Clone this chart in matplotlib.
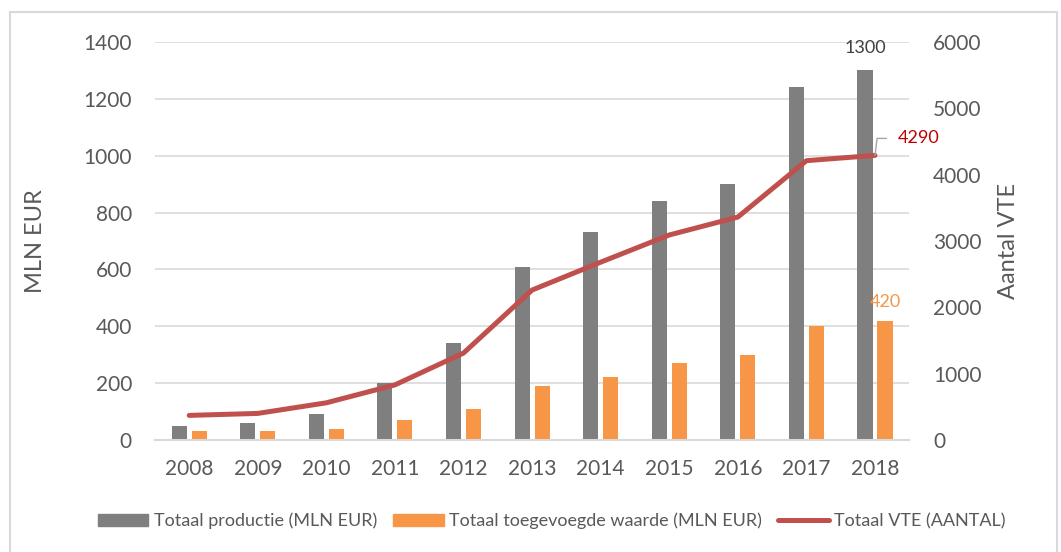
import matplotlib.pyplot as plt
import numpy as np
from matplotlib.patches import Rectangle
from matplotlib.lines import Line2D

# ------------ DATA -----------------
years = ['2008', '2009', '2010', '2011', '2012', '2013',
         '2014', '2015', '2016', '2017', '2018']
productie = [50, 60, 90, 200, 340, 610, 730, 840, 900, 1240, 1300]
toegevoegd = [30, 30, 40, 70, 110, 190, 220, 270, 300, 400, 420]
vte = [370, 400, 560, 830, 1310, 2260, 2680, 3090, 3360, 4210, 4290]

c_gray = '#7f7f7f'
c_orange = '#f79646'
c_red = '#c0504d'
c_text = '#595959'

plt.rcParams['font.family'] = ['Lato', 'DejaVu Sans']

fig = plt.figure(figsize=(10.61, 5.52), dpi=100)
ax1 = fig.add_axes([0.146, 0.203, 0.711, 0.721])
ax2 = ax1.twinx()

x = np.arange(len(years))
w = 0.22
ax1.bar(x - 0.146, productie, w, color=c_gray, zorder=2)
ax1.bar(x + 0.146, toegevoegd, w, color=c_orange, zorder=2)
ax2.plot(x, vte, color=c_red, lw=3.6, solid_capstyle='round', zorder=3)

ax1.set_xlim(-0.5, len(years) - 0.5)
ax1.set_ylim(0, 1400)
ax2.set_ylim(0, 6000)
ax1.set_yticks(range(0, 1401, 200))
ax2.set_yticks(range(0, 6001, 1000))
ax1.set_xticks(x)
ax1.set_xticklabels(years)

ax1.grid(axis='y', color='#d9d9d9', lw=1.2, zorder=0)
ax1.set_axisbelow(True)
for ax in (ax1, ax2):
    for s in ax.spines.values():
        s.set_visible(False)
    ax.tick_params(length=0, labelsize=15, colors=c_text)
ax1.spines['bottom'].set_visible(True)
ax1.spines['bottom'].set_color('#d9d9d9')
ax1.spines['bottom'].set_linewidth(1.5)
ax1.tick_params(axis='y', pad=16.5)
ax1.tick_params(axis='x', pad=14)
ax2.tick_params(axis='y', pad=17)

ax1.set_ylabel('MLN EUR', fontsize=17, color=c_text)
ax2.set_ylabel('Aantal VTE', fontsize=17, color=c_text)
ax1.yaxis.set_label_coords(-0.145, 0.5)
ax2.yaxis.set_label_coords(1.118, 0.5)

# data labels for the last year
ax1.text(x[-1] - 0.146, productie[-1] + 50, str(productie[-1]),
         ha='center', va='bottom', fontsize=13, color='#404040')
ax1.text(x[-1] + 0.146, toegevoegd[-1] + 38, str(toegevoegd[-1]),
         ha='center', va='bottom', fontsize=13, color=c_orange)
ax2.annotate(str(vte[-1]), xy=(x[-1], vte[-1]), xytext=(x[-1] + 0.33, vte[-1] + 256),
             fontsize=13, color='#c00000', va='center', ha='left',
             arrowprops=dict(arrowstyle='-', color='#a6a6a6', lw=1,
                             connectionstyle='angle,angleA=0,angleB=83,rad=0',
                             shrinkA=6, shrinkB=0))

handles = [Rectangle((0, 0), 1, 1, color=c_gray),
           Rectangle((0, 0), 1, 1, color=c_orange),
           Line2D([0], [0], color=c_red, lw=3.6, solid_capstyle='round')]
labels = ['Totaal productie (MLN EUR)', 'Totaal toegevoegde waarde (MLN EUR)',
          'Totaal VTE (AANTAL)']
leg = fig.legend(handles, labels, loc='center', bbox_to_anchor=(0.52, 0.056),
                 ncol=3, frameon=False, fontsize=13, handlelength=2.8,
                 handleheight=0.6, columnspacing=0.9, handletextpad=0.3)
for t in leg.get_texts():
    t.set_color(c_text)

fig.patches.append(Rectangle((0.0094, -0.05), 0.9868, 1.028, transform=fig.transFigure,
                             fill=False, edgecolor='#d9d9d9', lw=1.5))

fig.savefig('out.png', dpi=100)
